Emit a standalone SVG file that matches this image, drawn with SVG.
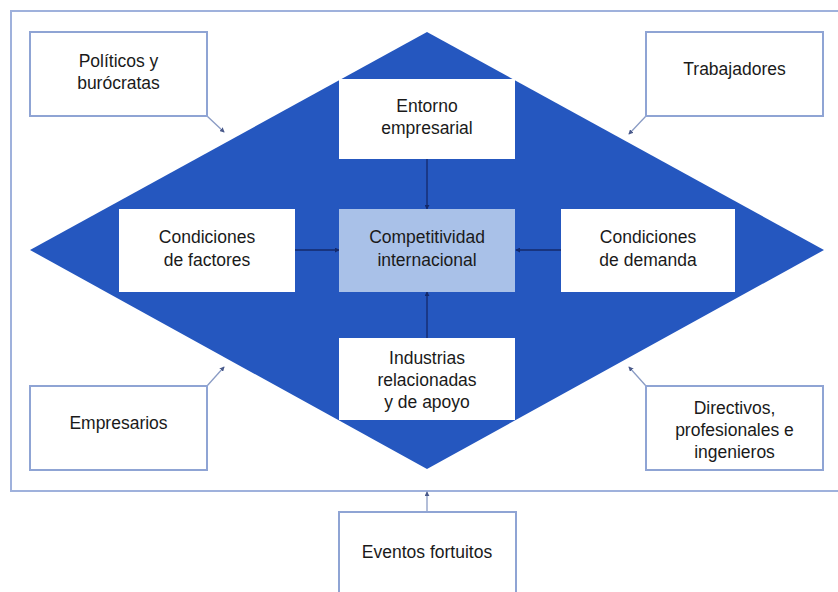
<svg xmlns="http://www.w3.org/2000/svg" width="838" height="592" viewBox="0 0 838 592">
<style>
.box{fill:#fff;stroke:#8fa4d4;stroke-width:2}
.inbox{fill:#fff;stroke:none}
.t{font-family:"Liberation Sans",Arial,sans-serif;font-size:17.5px;fill:#1a1a1a;text-anchor:middle}
.frame{fill:none;stroke:#9fb1dc;stroke-width:2}
.cin{stroke:#14296a;stroke-width:1.3;fill:none;marker-end:url(#ad)}
.cout{stroke:#8a9bc4;stroke-width:1.3;fill:none;marker-end:url(#ag)}
</style>
<defs>
<marker id="ad" viewBox="0 0 6 6" refX="5" refY="3" markerWidth="5" markerHeight="5" orient="auto" markerUnits="userSpaceOnUse">
<path d="M0,0 L6,3 L0,6 z" fill="#14296a"/>
</marker>
<marker id="ag" viewBox="0 0 6 6" refX="5" refY="3" markerWidth="5" markerHeight="5" orient="auto" markerUnits="userSpaceOnUse">
<path d="M0,0 L6,3 L0,6 z" fill="#4a5a8a"/>
</marker>
</defs>
<rect width="838" height="592" fill="#fff"/>
<path class="frame" d="M840,11 L11,11 L11,491 L840,491"/>
<polygon id="diamond" points="427,32 824,250 427,469 30,250" fill="#2557bf"/>

<g id="connectors">
<line class="cin" x1="427" y1="159" x2="427" y2="209"/>
<line class="cin" x1="295" y1="250" x2="339" y2="250"/>
<line class="cin" x1="561" y1="250" x2="516" y2="250"/>
<line class="cin" x1="427" y1="338" x2="427" y2="292"/>
<line class="cout" x1="207" y1="116" x2="224" y2="132"/>
<line class="cout" x1="646" y1="116" x2="629" y2="134"/>
<line class="cout" x1="207" y1="386" x2="224" y2="367"/>
<line class="cout" x1="646" y1="386" x2="629" y2="367"/>
<line class="cout" x1="427" y1="512" x2="427" y2="492"/>
</g>

<g id="politicos">
<rect class="box" x="30" y="32" width="177" height="84"/>
<text class="t" x="118.5" y="67">Políticos y</text>
<text class="t" x="118.5" y="89">burócratas</text>
</g>
<g id="trabajadores">
<rect class="box" x="646" y="32" width="177" height="84"/>
<text class="t" x="734.5" y="75">Trabajadores</text>
</g>
<g id="entorno">
<rect class="inbox" x="339" y="79" width="176" height="80"/>
<text class="t" x="427" y="112">Entorno</text>
<text class="t" x="427" y="134">empresarial</text>
</g>
<g id="factores">
<rect class="inbox" x="119" y="209" width="176" height="83"/>
<text class="t" x="207" y="243">Condiciones</text>
<text class="t" x="207" y="266">de factores</text>
</g>
<g id="competitividad">
<rect x="339" y="209" width="176" height="83" fill="#a9c1e8"/>
<text class="t" x="427" y="243">Competitividad</text>
<text class="t" x="427" y="266">internacional</text>
</g>
<g id="demanda">
<rect class="inbox" x="561" y="209" width="174" height="83"/>
<text class="t" x="648" y="243">Condiciones</text>
<text class="t" x="648" y="266">de demanda</text>
</g>
<g id="industrias">
<rect class="inbox" x="339" y="338" width="176" height="82"/>
<text class="t" x="427" y="364">Industrias</text>
<text class="t" x="427" y="386">relacionadas</text>
<text class="t" x="427" y="408">y de apoyo</text>
</g>
<g id="empresarios">
<rect class="box" x="30" y="386" width="177" height="84"/>
<text class="t" x="118.5" y="429">Empresarios</text>
</g>
<g id="directivos">
<rect class="box" x="646" y="386" width="177" height="84"/>
<text class="t" x="734.5" y="414">Directivos,</text>
<text class="t" x="734.5" y="436">profesionales e</text>
<text class="t" x="734.5" y="458">ingenieros</text>
</g>
<g id="eventos">
<rect class="box" x="339" y="512" width="177" height="84"/>
<text class="t" x="427" y="558">Eventos fortuitos</text>
</g>
</svg>
